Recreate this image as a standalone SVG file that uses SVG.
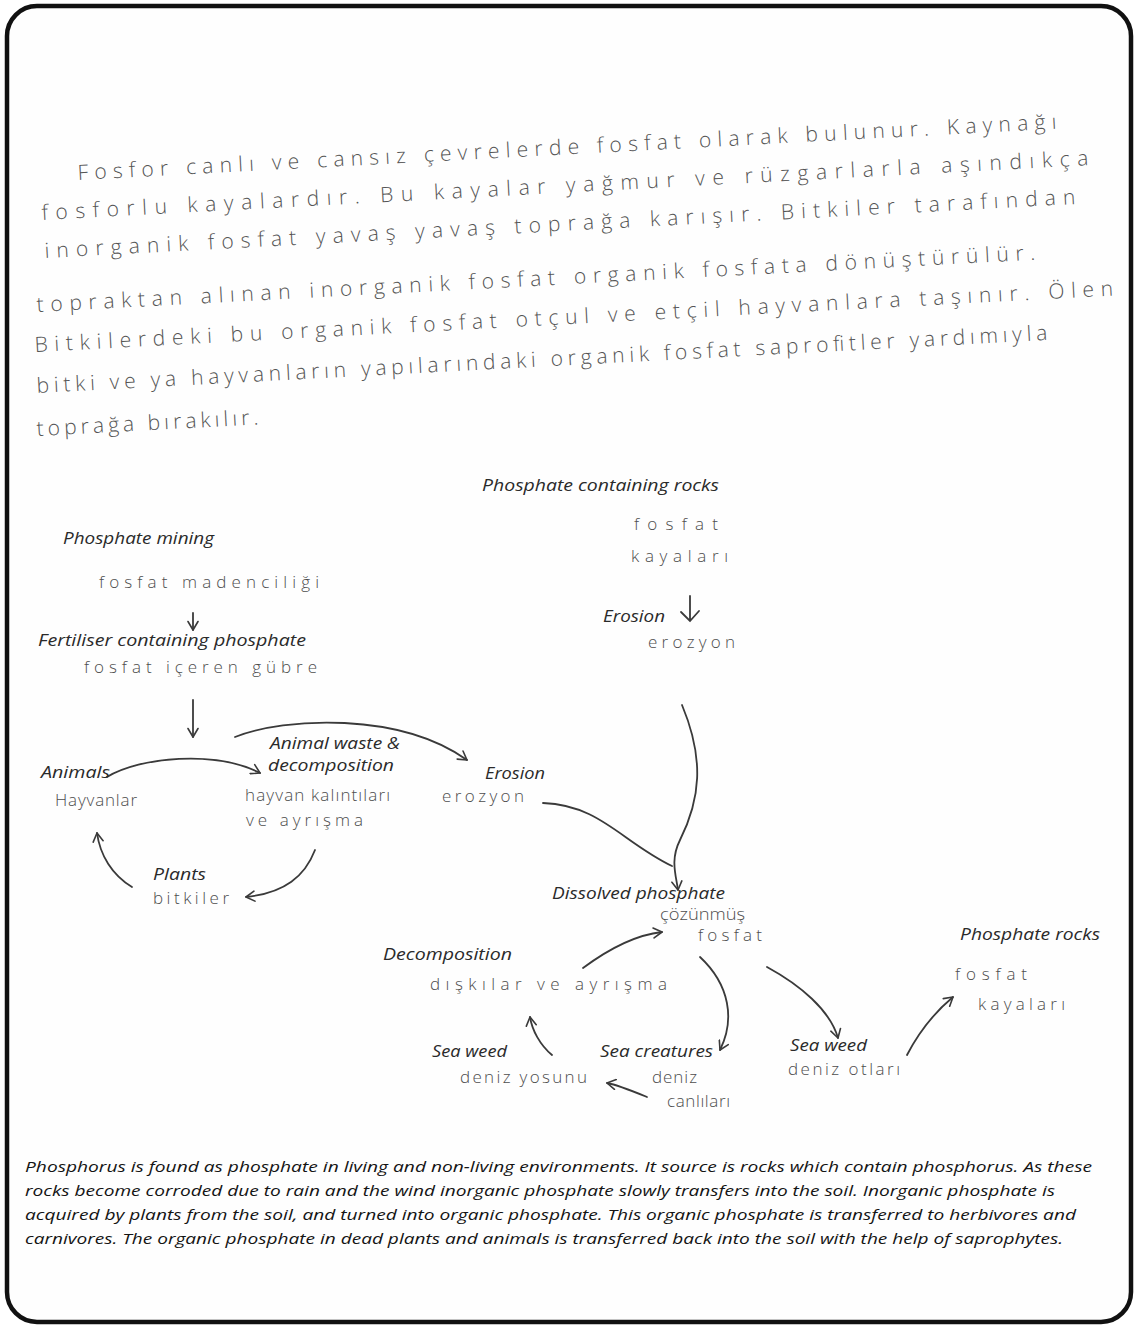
<svg xmlns="http://www.w3.org/2000/svg" width="1137" height="1328" viewBox="0 0 1137 1328">
  <defs>
    <style>
      .lbl { font-family: "Open Sans", "Noto Sans", "DejaVu Sans", sans-serif; font-style: italic; font-size: 15.5px; fill: #2a2a2a; }
      .hw { font-family: "Open Sans", "DejaVu Sans", sans-serif; font-weight: 300; font-size: 17px; fill: #4d4d4d; }
      .hwp { font-family: "Open Sans", "DejaVu Sans", sans-serif; font-weight: 300; font-size: 21px; fill: #555; }
      .para { font-family: "Open Sans", "Noto Sans", sans-serif; font-style: italic; font-size: 15px; fill: #141414; }
      .conn path { fill: none; stroke: #3a3a3a; stroke-width: 1.8; stroke-linecap: round; }
    </style>
    <marker id="head" viewBox="0 0 12 12" refX="10.5" refY="6" markerWidth="12" markerHeight="12" markerUnits="userSpaceOnUse" orient="auto">
      <path d="M2,1 L10.5,6 L2,11" fill="none" stroke="#3a3a3a" stroke-width="1.6" stroke-linecap="round" stroke-linejoin="round"/>
    </marker>
  </defs>

  <!-- page frame -->
  <rect x="0" y="0" width="1137" height="1328" fill="#ffffff"/>
  <rect x="7" y="6" width="1124" height="1316" rx="30" ry="30" fill="#fefefe" stroke="#111" stroke-width="4.5"/>

  <!-- handwritten Turkish paragraph -->
  <g id="turkish-text" class="hwp">
    <text x="78" y="180" transform="rotate(-3 78 180)" textLength="980" lengthAdjust="spacing">Fosfor canlı ve cansız çevrelerde fosfat olarak bulunur. Kaynağı</text>
    <text x="42" y="220" transform="rotate(-3 42 220)" textLength="1048" lengthAdjust="spacing">fosforlu kayalardır. Bu kayalar yağmur ve rüzgarlarla aşındıkça</text>
    <text x="45" y="258" transform="rotate(-3 45 258)" textLength="1032" lengthAdjust="spacing">inorganik fosfat yavaş yavaş toprağa karışır. Bitkiler tarafından</text>
    <text x="37" y="312" transform="rotate(-3 37 312)" textLength="1000" lengthAdjust="spacing">topraktan alınan inorganik fosfat organik fosfata dönüştürülür.</text>
    <text x="35" y="352" transform="rotate(-3 35 352)" textLength="1080" lengthAdjust="spacing">Bitkilerdeki bu organik fosfat otçul ve etçil hayvanlara taşınır. Ölen</text>
    <text x="37" y="393" transform="rotate(-3 37 393)" textLength="1012" lengthAdjust="spacing">bitki ve ya hayvanların yapılarındaki organik fosfat saprofitler yardımıyla</text>
    <text x="37" y="436" transform="rotate(-3 37 436)" textLength="222" lengthAdjust="spacing">toprağa bırakılır.</text>
  </g>

  <!-- connectors -->
  <g id="connectors" class="conn">
    <path d="M193,613 L193,630" marker-end="url(#head)"/>
    <path d="M193,700 L193,737" marker-end="url(#head)"/>
    <path d="M235,737 C285,717 400,712 467,760" marker-end="url(#head)"/>
    <path d="M107,777 C140,757 215,750 260,773" marker-end="url(#head)"/>
    <path d="M315,850 C305,876 285,893 246,897" marker-end="url(#head)"/>
    <path d="M132,887 C112,875 100,855 97,833" marker-end="url(#head)"/>
    <path d="M543,803 C600,805 622,842 672,866"/>
    <path d="M682,705 C705,760 700,800 680,840 C670,860 676,875 678,890" marker-end="url(#head)"/>
    <path d="M583,968 C610,948 635,935 662,932" marker-end="url(#head)"/>
    <path d="M700,957 C730,985 735,1020 720,1050" marker-end="url(#head)"/>
    <path d="M767,967 C800,985 830,1010 838,1038" marker-end="url(#head)"/>
    <path d="M552,1055 C540,1045 532,1030 530,1017" marker-end="url(#head)"/>
    <path d="M647,1097 C630,1090 618,1085 607,1083" marker-end="url(#head)"/>
    <path d="M907,1055 C920,1030 935,1012 953,997" marker-end="url(#head)"/>
  </g>

  <!-- nodes -->
  <g id="node-phosphate-containing-rocks">
    <text class="lbl" x="482" y="491" textLength="237" lengthAdjust="spacingAndGlyphs">Phosphate containing rocks</text>
    <text class="hw" x="634" y="530" textLength="84" lengthAdjust="spacing">fosfat</text>
    <text class="hw" x="631" y="562" textLength="97" lengthAdjust="spacing">kayaları</text>
  </g>
  <g id="node-erosion-top">
    <text class="lbl" x="603" y="622" textLength="62" lengthAdjust="spacingAndGlyphs">Erosion</text>
    <path d="M690,596 L690,620 M681,612 L690,621 L699,611" fill="none" stroke="#3a3a3a" stroke-width="1.8" stroke-linecap="round"/>
    <text class="hw" x="648" y="648" textLength="87" lengthAdjust="spacing">erozyon</text>
  </g>
  <g id="node-phosphate-mining">
    <text class="lbl" x="63" y="544" textLength="151" lengthAdjust="spacingAndGlyphs">Phosphate mining</text>
    <text class="hw" x="99" y="588" textLength="220" lengthAdjust="spacing">fosfat madenciliği</text>
  </g>
  <g id="node-fertiliser">
    <text class="lbl" x="38" y="646" textLength="268" lengthAdjust="spacingAndGlyphs">Fertiliser containing phosphate</text>
    <text class="hw" x="84" y="673" textLength="233" lengthAdjust="spacing">fosfat içeren gübre</text>
  </g>
  <g id="node-animal-waste">
    <text class="lbl" x="270" y="749" textLength="130" lengthAdjust="spacingAndGlyphs">Animal waste &amp;</text>
    <text class="lbl" x="268" y="771" textLength="126" lengthAdjust="spacingAndGlyphs">decomposition</text>
    <text class="hw" x="245" y="801" textLength="145" lengthAdjust="spacing">hayvan kalıntıları</text>
    <text class="hw" x="246" y="826" textLength="117" lengthAdjust="spacing">ve ayrışma</text>
  </g>
  <g id="node-animals">
    <text class="lbl" x="41" y="778" textLength="69" lengthAdjust="spacingAndGlyphs">Animals</text>
    <text class="hw" x="55" y="806" textLength="82" lengthAdjust="spacing">Hayvanlar</text>
  </g>
  <g id="node-erosion-mid">
    <text class="lbl" x="485" y="779" textLength="60" lengthAdjust="spacingAndGlyphs">Erosion</text>
    <text class="hw" x="442" y="802" textLength="82" lengthAdjust="spacing">erozyon</text>
  </g>
  <g id="node-plants">
    <text class="lbl" x="153" y="880" textLength="53" lengthAdjust="spacingAndGlyphs">Plants</text>
    <text class="hw" x="153" y="904" textLength="76" lengthAdjust="spacing">bitkiler</text>
  </g>
  <g id="node-dissolved-phosphate">
    <text class="lbl" x="552" y="899" textLength="173" lengthAdjust="spacingAndGlyphs">Dissolved phosphate</text>
    <text class="hw" x="660" y="920" font-size="15" textLength="85" lengthAdjust="spacingAndGlyphs">çözünmüş</text>
    <text class="hw" x="698" y="941" textLength="64" lengthAdjust="spacing">fosfat</text>
  </g>
  <g id="node-decomposition">
    <text class="lbl" x="383" y="960" textLength="129" lengthAdjust="spacingAndGlyphs">Decomposition</text>
    <text class="hw" x="430" y="990" textLength="237" lengthAdjust="spacing">dışkılar ve ayrışma</text>
  </g>
  <g id="node-sea-weed-left">
    <text class="lbl" x="432" y="1057" textLength="75" lengthAdjust="spacingAndGlyphs">Sea weed</text>
    <text class="hw" x="460" y="1083" textLength="127" lengthAdjust="spacing">deniz yosunu</text>
  </g>
  <g id="node-sea-creatures">
    <text class="lbl" x="600" y="1057" textLength="113" lengthAdjust="spacingAndGlyphs">Sea creatures</text>
    <text class="hw" x="652" y="1083" textLength="45" lengthAdjust="spacing">deniz</text>
    <text class="hw" x="667" y="1107" textLength="63" lengthAdjust="spacing">canlıları</text>
  </g>
  <g id="node-sea-weed-right">
    <text class="lbl" x="790" y="1051" textLength="77" lengthAdjust="spacingAndGlyphs">Sea weed</text>
    <text class="hw" x="788" y="1075" font-size="15" textLength="112" lengthAdjust="spacing">deniz otları</text>
  </g>
  <g id="node-phosphate-rocks">
    <text class="lbl" x="960" y="940" textLength="140" lengthAdjust="spacingAndGlyphs">Phosphate rocks</text>
    <text class="hw" x="955" y="980" textLength="72" lengthAdjust="spacing">fosfat</text>
    <text class="hw" x="978" y="1010" textLength="87" lengthAdjust="spacing">kayaları</text>
  </g>

  <!-- English summary -->
  <g id="summary" class="para">
    <text x="25" y="1172" textLength="1067" lengthAdjust="spacingAndGlyphs">Phosphorus is found as phosphate in living and non-living environments. It source is rocks which contain phosphorus. As these</text>
    <text x="25" y="1196" textLength="1030" lengthAdjust="spacingAndGlyphs">rocks become corroded due to rain and the wind inorganic phosphate slowly transfers into the soil. Inorganic phosphate is</text>
    <text x="25" y="1220" textLength="1051" lengthAdjust="spacingAndGlyphs">acquired by plants from the soil, and turned into organic phosphate. This organic phosphate is transferred to herbivores and</text>
    <text x="25" y="1244" textLength="1038" lengthAdjust="spacingAndGlyphs">carnivores. The organic phosphate in dead plants and animals is transferred back into the soil with the help of saprophytes.</text>
  </g>
</svg>
